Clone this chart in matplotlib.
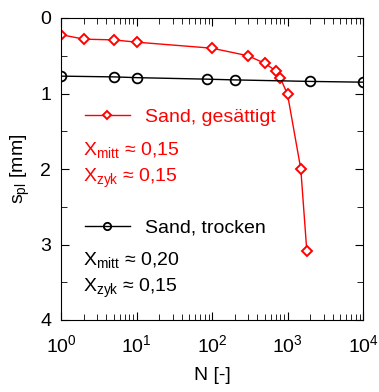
import matplotlib
matplotlib.use("Agg")
import matplotlib.pyplot as plt
from matplotlib.ticker import MultipleLocator, LogLocator, NullFormatter

plt.rcParams['font.family'] = ['Liberation Sans', 'DejaVu Sans']
plt.rcParams['mathtext.default'] = 'regular'

# Sand, gesättigt (rot)
n_nass = [1, 2, 5, 10, 100, 300, 500, 700, 800, 1000, 1500, 1800]
s_nass = [0.22, 0.28, 0.29, 0.32, 0.40, 0.50, 0.60, 0.70, 0.79, 1.01, 2.0, 3.08]

# Sand, trocken (schwarz)
n_trocken = [1, 5, 10, 85, 200, 2000, 10000]
s_trocken = [0.77, 0.78, 0.79, 0.81, 0.82, 0.84, 0.85]

fig = plt.figure(figsize=(3.79, 3.92), dpi=100)
ax = fig.add_axes([61/379, 1 - 320/392, 302/379, 302/392])

l1, = ax.plot(n_nass, s_nass, color='red', lw=1, marker='D', ms=5.5,
              mfc='white', mec='red', mew=1.4, label='Sand, gesättigt')
l2, = ax.plot(n_trocken, s_trocken, color='black', lw=1, marker='o', ms=7,
              mfc='none', mec='black', mew=1.3, label='Sand, trocken')

ax.set_xscale('log')
ax.set_xlim(1, 1e4)
ax.set_ylim(4, 0)
ax.yaxis.set_major_locator(MultipleLocator(1))
ax.yaxis.set_minor_locator(MultipleLocator(0.5))
ax.xaxis.set_minor_locator(LogLocator(base=10, subs=range(2, 10), numticks=20))
ax.xaxis.set_minor_formatter(NullFormatter())
ax.tick_params(which='both', direction='in', top=True, right=True, labelsize=14)
ax.tick_params(axis='x', pad=10)
ax.tick_params(axis='y', pad=7)
ax.tick_params(which='major', length=6)
ax.tick_params(which='minor', length=4)

ax.set_xlabel('N [-]', fontsize=14, labelpad=8)
ax.set_ylabel('$s_{pl}$ [mm]', fontsize=14, labelpad=6)

leg_kw = dict(frameon=False, fontsize=14, handlelength=2.3, handletextpad=0.8,
              borderpad=0, borderaxespad=0, markerscale=0.75)
leg1 = ax.legend(handles=[l1], loc='center left', bbox_to_anchor=(0.079, 0.672),
                 labelcolor='red', **leg_kw)
ax.add_artist(leg1)
ax.legend(handles=[l2], loc='center left', bbox_to_anchor=(0.079, 0.305), **leg_kw)

ax.text(0.073, 0.563, '$X_{mitt}$ ≈ 0,15', transform=ax.transAxes, color='red', fontsize=14, va='center')
ax.text(0.073, 0.470, '$X_{zyk}$ ≈ 0,15', transform=ax.transAxes, color='red', fontsize=14, va='center')
ax.text(0.073, 0.199, '$X_{mitt}$ ≈ 0,20', transform=ax.transAxes, color='black', fontsize=14, va='center')
ax.text(0.073, 0.106, '$X_{zyk}$ ≈ 0,15', transform=ax.transAxes, color='black', fontsize=14, va='center')

fig.savefig('out.png', dpi=100)
